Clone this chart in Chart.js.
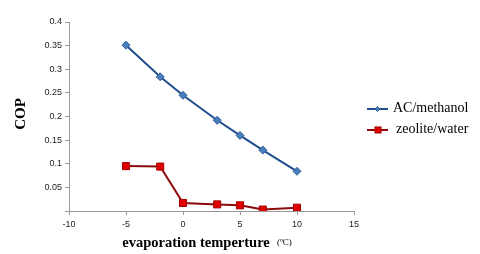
<!DOCTYPE html>
<html><head><meta charset="utf-8">
<script src="https://cdn.jsdelivr.net/npm/chart.js@4.4.0/dist/chart.umd.min.js"></script>
<style>html,body{margin:0;padding:0;background:#fff}#wrap{width:480px;height:254px}</style>
</head><body><div id="wrap"><canvas id="c" width="480" height="254"></canvas></div>
<script>
const temps = [-5, -2, 0, 3, 5, 7, 10];
const acMethanol = [0.351, 0.284, 0.245, 0.192, 0.160, 0.129, 0.084];
const zeoliteWater = [0.095, 0.094, 0.017, 0.014, 0.012, 0.003, 0.007];
const seriesNames = ['AC/methanol', 'zeolite/water'];
const xTitle = 'evaporation temperture';
const xUnit = '(ºC)';
const yTitle = 'COP';

const pts = (xs, ys) => xs.map((x, i) => ({x, y: ys[i]}));

const customText = {
  id: 'customText',
  afterDraw(chart) {
    const ctx = chart.ctx;
    ctx.save();
    ctx.fillStyle = '#000';
    ctx.textBaseline = 'middle';
    ctx.font = 'bold 14.5px "Liberation Serif"';
    ctx.textAlign = 'center';
    ctx.fillText(xTitle, 196, 243);
    ctx.font = '9px "Liberation Serif"';
    ctx.textAlign = 'left';
    ctx.fillText(xUnit, 277, 243);
    ctx.translate(21, 114);
    ctx.rotate(-Math.PI / 2);
    ctx.font = 'bold 15px "Liberation Serif"';
    ctx.textAlign = 'center';
    ctx.fillText(yTitle, 0, 0);
    ctx.restore();
    // legend
    ctx.save();
    chart.data.datasets.forEach((ds, i) => {
      const y = 108 + i * 21;
      ctx.strokeStyle = ds.borderColor;
      ctx.lineWidth = 2;
      ctx.beginPath(); ctx.moveTo(367, y + 1); ctx.lineTo(388, y + 1); ctx.stroke();
      ctx.fillStyle = ds.pointBackgroundColor;
      ctx.strokeStyle = ds.pointBorderColor;
      ctx.lineWidth = 1;
      if (i === 0) {
        ctx.beginPath(); ctx.moveTo(377.5, y - 1.5); ctx.lineTo(380, y + 1); ctx.lineTo(377.5, y + 3.5); ctx.lineTo(375, y + 1); ctx.closePath(); ctx.fill(); ctx.stroke();
      } else {
        ctx.fillRect(375, y - 2, 6, 6); ctx.strokeRect(375, y - 2, 6, 6);
      }
      ctx.fillStyle = '#000';
      ctx.font = '14px "Liberation Serif"';
      ctx.textAlign = 'left';
      ctx.textBaseline = 'middle';
      ctx.fillText(seriesNames[i], i === 0 ? 393 : 396, y);
    });
    ctx.restore();
  }
};

new Chart(document.getElementById('c'), {
  type: 'line',
  data: {
    datasets: [
      {label: seriesNames[0], data: pts(temps, acMethanol), borderColor: '#1F4E8C', borderWidth: 2,
       pointStyle: 'rectRot', pointRadius: 4, pointBackgroundColor: '#4A7EBB', pointBorderColor: '#2E5E9E', pointBorderWidth: 1},
      {label: seriesNames[1], data: pts(temps, zeoliteWater), borderColor: '#8B0A0A', borderWidth: 2,
       pointStyle: 'rect', pointRadius: 5, pointBackgroundColor: '#E00000', pointBorderColor: '#A00000', pointBorderWidth: 1}
    ]
  },
  plugins: [customText],
  options: {
    responsive: false, animation: false,
    layout: {padding: {left: 0, right: 126, top: 22, bottom: 0}},
    plugins: {legend: {display: false}, tooltip: {enabled: false}},
    scales: {
      x: {type: 'linear', min: -10, max: 15,
          ticks: {stepSize: 5, color: '#222', font: {family: 'Liberation Sans', size: 9}, padding: 4},
          grid: {display: true, drawOnChartArea: false, tickLength: 4, color: '#999'},
          border: {color: '#999'},
          afterFit(s) { s.height = 43; }},
      y: {min: 0, max: 0.4,
          ticks: {stepSize: 0.05, color: '#222', font: {family: 'Liberation Sans', size: 9}, padding: 3,
                  callback: v => (Math.abs(v) < 1e-9 ? '' : String(Math.round(v * 100) / 100))},
          grid: {display: true, drawOnChartArea: false, tickLength: 4, color: '#999'},
          border: {color: '#999'},
          afterFit(s) { s.width = 69; }}
    }
  }
});
</script></body></html>
